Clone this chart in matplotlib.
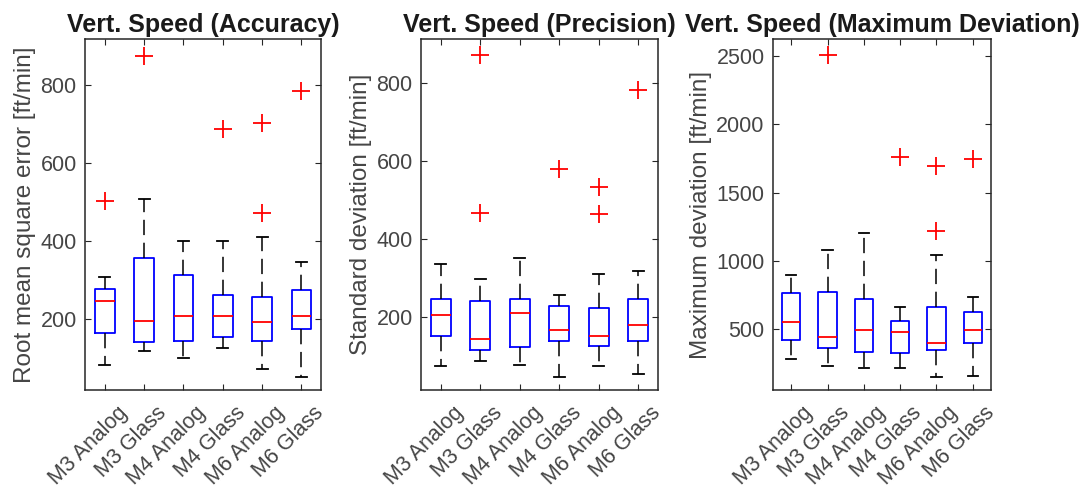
import numpy as np
import matplotlib
matplotlib.use("Agg")
import matplotlib.pyplot as plt

plt.rcParams['font.family'] = ['Liberation Sans', 'DejaVu Sans']

groups = ['M3 Analog', 'M3 Glass', 'M4 Analog', 'M4 Glass', 'M6 Analog', 'M6 Glass']

# Accuracy (RMSE)
acc_med = [246, 196, 209, 208, 192, 208]
acc_q1 = [165, 140, 143, 153, 144, 174]
acc_q3 = [278, 357, 312, 261, 256, 274]
acc_lo = [82, 118, 101, 126, 73, 52]
acc_hi = [308, 507, 400, 401, 411, 345]
acc_out = [[503], [875], [], [687], [702, 471], [785]]

# Precision (std dev)
pre_med = [206, 142, 210, 166, 150, 179]
pre_q1 = [150, 115, 123, 137, 125, 137]
pre_q3 = [245, 240, 245, 228, 224, 247]
pre_lo = [74, 86, 76, 45, 73, 52]
pre_hi = [337, 296, 352, 255, 309, 317]
pre_out = [[], [873, 466], [], [579], [533, 465], [784]]

# Maximum deviation
max_med = [551, 446, 495, 483, 398, 495]
max_q1 = [422, 365, 336, 327, 348, 402]
max_q3 = [763, 775, 722, 561, 661, 629]
max_lo = [280, 234, 219, 219, 149, 160]
max_hi = [895, 1080, 1203, 661, 1042, 739]
max_out = [[], [2510], [], [1759], [1698, 1220], [1744]]

panels = [
    ('Vert. Speed (Accuracy)', 'Root mean square error [ft/min]',
     acc_med, acc_q1, acc_q3, acc_lo, acc_hi, acc_out, (18, 918), [200, 400, 600, 800]),
    ('Vert. Speed (Precision)', 'Standard deviation [ft/min]',
     pre_med, pre_q1, pre_q3, pre_lo, pre_hi, pre_out, (12, 914), [200, 400, 600, 800]),
    ('Vert. Speed (Maximum Deviation)', 'Maximum deviation [ft/min]',
     max_med, max_q1, max_q3, max_lo, max_hi, max_out, (56, 2624), [500, 1000, 1500, 2000, 2500]),
]

# axes rectangles in figure fraction (left, bottom, width, height)
rects = [(0.0783, 0.2089, 0.2173, 0.712),
         (0.3877, 0.2089, 0.2182, 0.712),
         (0.7118, 0.2089, 0.2007, 0.712)]

fig = plt.figure(figsize=(10.86, 4.93), dpi=100)
pos = np.arange(1, len(groups) + 1)

for (title, ylab, med, q1, q3, lo, hi, out, ylim, yt), rect in zip(panels, rects):
    ax = fig.add_axes(rect)
    stats = []
    for i in range(len(groups)):
        stats.append({'med': med[i], 'q1': q1[i], 'q3': q3[i],
                      'whislo': lo[i], 'whishi': hi[i], 'fliers': out[i]})
    ax.bxp(stats, positions=pos, widths=0.5, capwidths=0.28,
           boxprops=dict(color='#0000ff', lw=1.3),
           medianprops=dict(color='#ff0000', lw=1.3),
           whiskerprops=dict(color='black', lw=1.1, linestyle=(0, (10, 5))),
           capprops=dict(color='black', lw=1.3),
           flierprops=dict(marker='+', markeredgecolor='#ff0000', markersize=13,
                           markeredgewidth=1.3, linestyle='none'))
    ax.set_xlim(0.5, 6.5)
    ax.set_ylim(*ylim)
    ax.set_yticks(yt)
    # tick marks at the boxes, labels slightly to the right (like the matlab export)
    ax.set_xticks(pos)
    ax.set_xticklabels([])
    ax.set_xticks(pos + 0.3, minor=True)
    ax.set_xticklabels(groups, minor=True, rotation=45, ha='right', va='top',
                       rotation_mode='anchor')
    ax.tick_params(direction='in', top=True, right=True, length=4, width=0.8,
                   labelsize=15.5, colors='#262626', labelcolor='#454545', pad=6)
    ax.tick_params(axis='x', which='minor', length=0, top=False, pad=9,
                   labelsize=15.5, labelcolor='#454545')
    ax.tick_params(axis='y', which='minor', left=False, right=False)
    for s in ax.spines.values():
        s.set_color('#262626')
        s.set_linewidth(1.1)
    ax.set_title(title, fontsize=18, fontweight='bold', color='#1a1a1a', pad=5)
    ax.set_ylabel(ylab, fontsize=17.5, color='#454545', labelpad=3)

fig.savefig('out.png', dpi=100)
